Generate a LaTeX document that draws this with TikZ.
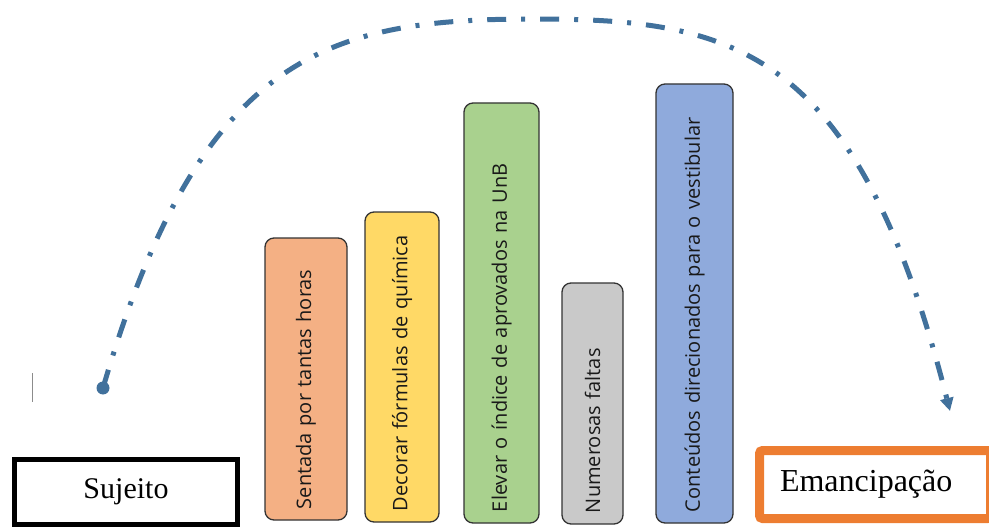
\documentclass[tikz,border=0pt]{standalone}
\usepackage{fontspec}
\setmainfont{Liberation Serif}
\newfontfamily\barfont{Open Sans}
\usetikzlibrary{arrows.meta}
\definecolor{arcblue}{RGB}{65,113,156}
\definecolor{cOrange}{RGB}{244,176,132}
\definecolor{cYellow}{RGB}{255,217,102}
\definecolor{cGreen}{RGB}{169,209,142}
\definecolor{cGray}{RGB}{201,201,201}
\definecolor{cBlue}{RGB}{143,170,220}
\definecolor{emorange}{RGB}{237,125,49}
\tikzset{
  barbox/.style={draw=black!80, line width=1.3pt, rounded corners=9pt, rotate=90,
    font=\barfont\fontsize{20}{24}\selectfont, text=black!90,
    inner xsep=11pt, inner ysep=0pt, align=left},
  arcline/.style={draw=arcblue, line width=5pt,
    dash pattern=on 19pt off 15pt on 4pt off 15pt},
}
\begin{document}
\begin{tikzpicture}[x=1pt,y=-1pt]
\useasboundingbox (0,0) rectangle (989,527);
% stray vertical mark
\draw[black!45, line width=1pt] (32,373) -- (32,402);
% boxes
\node[draw=black, line width=5pt, minimum width=223pt, minimum height=65pt,
  font=\fontsize{30}{35}\selectfont] (suj) at (126,492) {Sujeito};
\node[draw=emorange, line width=9pt, rounded corners=3pt, minimum width=231pt,
  minimum height=68pt, text width=190pt, inner xsep=20.5pt, align=left,
  font=\fontsize{32}{37}\selectfont] (eman) at (875,484.5) {Emancipação};
% bars
\node[barbox, fill=cOrange, minimum width=282pt, minimum height=82pt, text width=260pt]
  (b1) at (306,379) {Sentada por tantas horas};
\node[barbox, fill=cYellow, minimum width=310pt, minimum height=74pt, text width=288pt]
  (b2) at (402,367) {Decorar fórmulas de química};
\node[barbox, fill=cGreen, minimum width=420pt, minimum height=75pt, text width=398pt]
  (b3) at (501.5,313) {Elevar o índice de aprovados na UnB};
\node[barbox, fill=cGray, minimum width=241pt, minimum height=61pt, text width=219pt]
  (b4) at (592.5,403.5) {Numerosas faltas};
\node[barbox, fill=cBlue, minimum width=439pt, minimum height=77pt, text width=417pt]
  (b5) at (694.5,303.5) {Conteúdos direcionados para o vestibular};
% arc
\node[circle, fill=arcblue, minimum size=13pt, inner sep=0pt] (dot) at (103,388) {};
\coordinate (peak) at (535,19);
\coordinate (arcend) at (950,411);
\draw[arcline, -{Triangle[length=13pt,width=13pt]}]
  (dot.center) .. controls (201,51) and (330,19) .. (peak)
  .. controls (735,19) and (857.5,48) .. (arcend);
\end{tikzpicture}
\end{document}
